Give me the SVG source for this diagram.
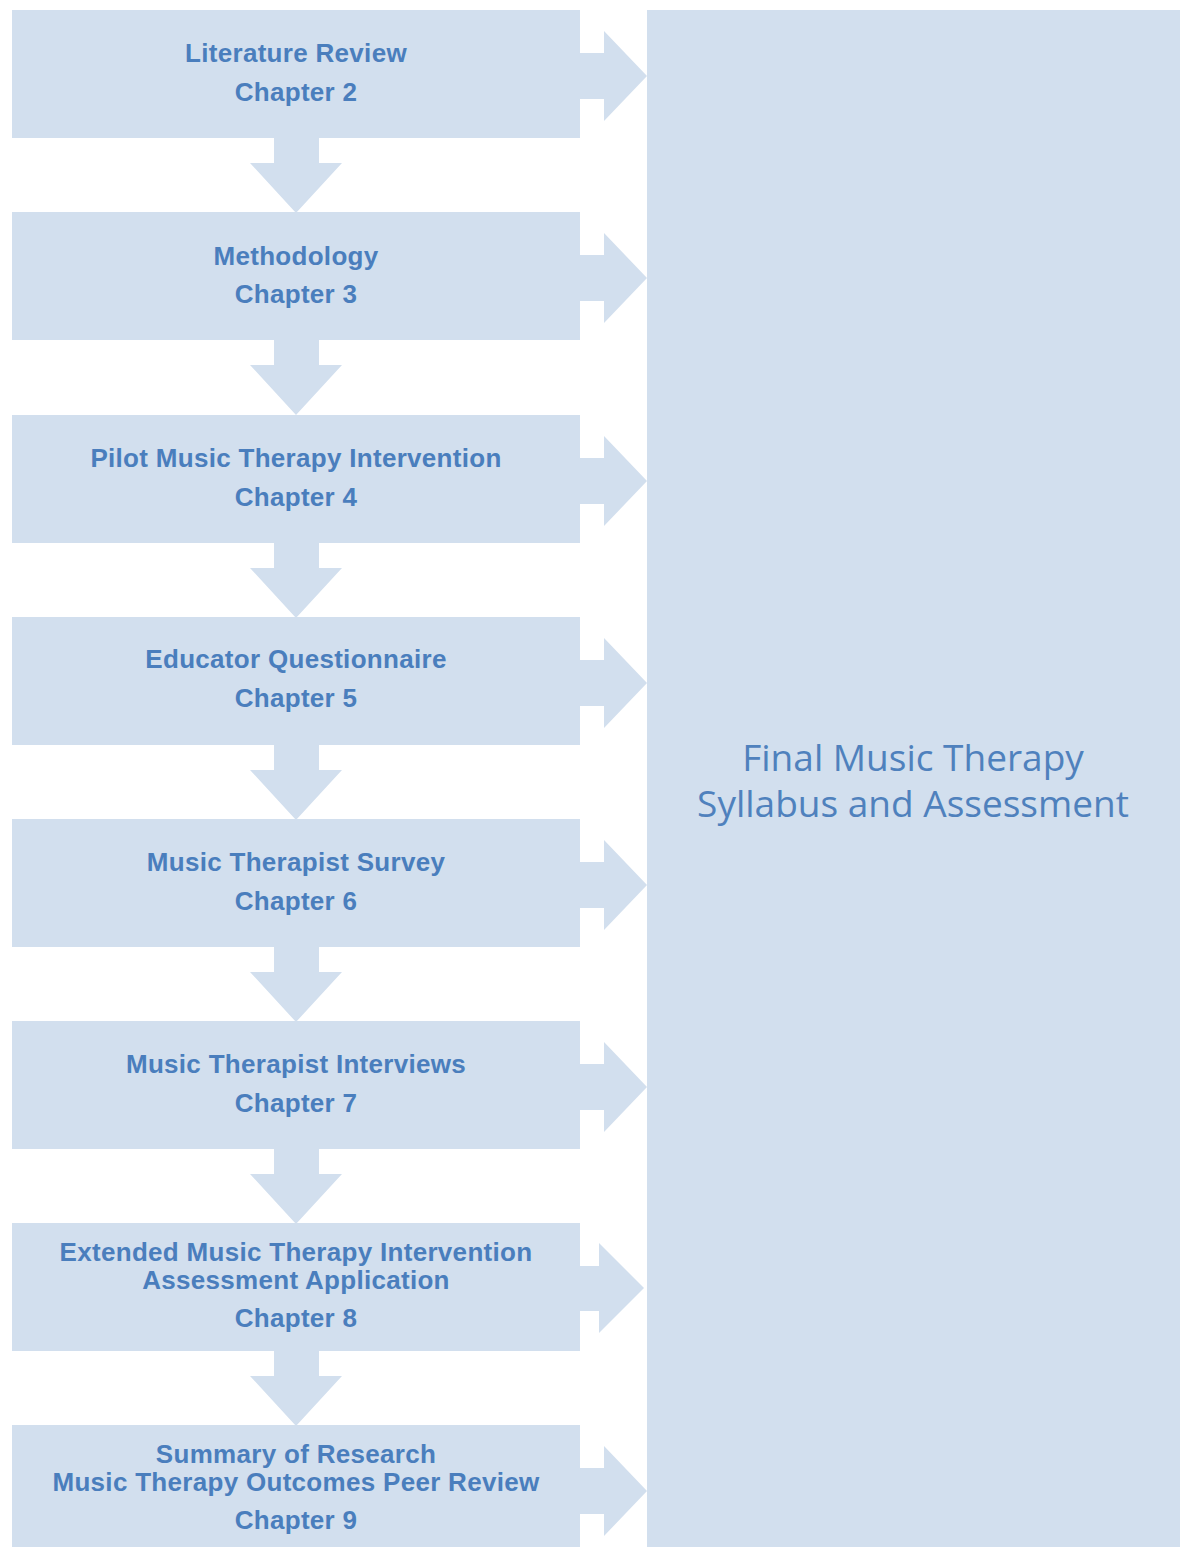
<svg xmlns="http://www.w3.org/2000/svg" width="1183" height="1547" viewBox="0 0 1183 1547">
  <style>
    .shape { fill: #d2dfee; }
    .label { font-family: "Liberation Sans", Arial, sans-serif; font-weight: bold; font-size: 26px; fill: #4a7ebd; text-anchor: middle; letter-spacing: 0.3px; }
    .big { font-family: "Open Sans", "Noto Sans", sans-serif; font-size: 37px; fill: #4f81bd; text-anchor: middle; }
  </style>
  <defs>
    <!-- downward arrow between stacked steps, origin at source box bottom centre -->
    <polygon id="down" points="-22,0 23,0 23,25 46,25 0,75 -46,25 -22,25"/>
    <!-- rightward arrow into the final panel, origin at box right edge / box top -->
    <polygon id="right" points="0,43 24,43 24,21 67,66 24,111 24,89 0,89"/>
  </defs>
  <rect width="1183" height="1547" fill="#ffffff"/>

  <g id="connectors" class="shape">
    <use href="#down" x="296" y="138"/>
    <use href="#down" x="296" y="340"/>
    <use href="#down" x="296" y="543"/>
    <use href="#down" x="296" y="745"/>
    <use href="#down" x="296" y="947"/>
    <use href="#down" x="296" y="1149"/>
    <use href="#down" x="296" y="1351"/>
    <use href="#right" x="580" y="10"/>
    <use href="#right" x="580" y="212"/>
    <use href="#right" x="580" y="415"/>
    <use href="#right" x="580" y="617"/>
    <use href="#right" x="580" y="819"/>
    <use href="#right" x="580" y="1021"/>
    <polygon points="580,1266 599,1266 599,1243 644,1288 599,1333 599,1311 580,1311"/>
    <use href="#right" x="580" y="1425"/>
  </g>

  <g id="final-panel">
    <rect class="shape" x="647" y="10" width="533" height="1540"/>
    <text class="big" x="913" y="771">Final Music Therapy</text>
    <text class="big" x="913" y="817">Syllabus and Assessment</text>
  </g>

  <g id="step-literature">
    <rect class="shape" x="12" y="10" width="568" height="128"/>
    <text class="label" x="296" y="62">Literature Review</text>
    <text class="label" x="296" y="101">Chapter 2</text>
  </g>
  <g id="step-methodology">
    <rect class="shape" x="12" y="212" width="568" height="128"/>
    <text class="label" x="296" y="265">Methodology</text>
    <text class="label" x="296" y="303">Chapter 3</text>
  </g>
  <g id="step-pilot">
    <rect class="shape" x="12" y="415" width="568" height="128"/>
    <text class="label" x="296" y="467">Pilot Music Therapy Intervention</text>
    <text class="label" x="296" y="506">Chapter 4</text>
  </g>
  <g id="step-educator">
    <rect class="shape" x="12" y="617" width="568" height="128"/>
    <text class="label" x="296" y="668">Educator Questionnaire</text>
    <text class="label" x="296" y="707">Chapter 5</text>
  </g>
  <g id="step-survey">
    <rect class="shape" x="12" y="819" width="568" height="128"/>
    <text class="label" x="296" y="871">Music Therapist Survey</text>
    <text class="label" x="296" y="910">Chapter 6</text>
  </g>
  <g id="step-interviews">
    <rect class="shape" x="12" y="1021" width="568" height="128"/>
    <text class="label" x="296" y="1073">Music Therapist Interviews</text>
    <text class="label" x="296" y="1112">Chapter 7</text>
  </g>
  <g id="step-extended">
    <rect class="shape" x="12" y="1223" width="568" height="128"/>
    <text class="label" x="296" y="1261">Extended Music Therapy Intervention</text>
    <text class="label" x="296" y="1289">Assessment Application</text>
    <text class="label" x="296" y="1327">Chapter 8</text>
  </g>
  <g id="step-summary">
    <rect class="shape" x="12" y="1425" width="568" height="128"/>
    <text class="label" x="296" y="1463">Summary of Research</text>
    <text class="label" x="296" y="1491">Music Therapy Outcomes Peer Review</text>
    <text class="label" x="296" y="1529">Chapter 9</text>
  </g>
</svg>
